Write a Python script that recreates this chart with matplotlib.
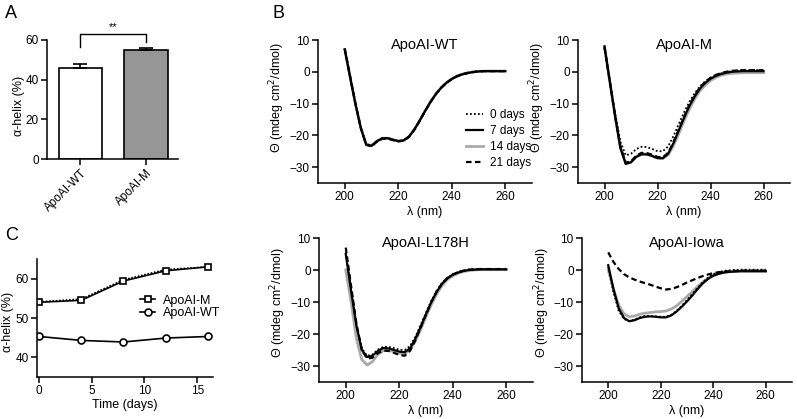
import matplotlib
matplotlib.use('Agg')
import matplotlib.pyplot as plt
import numpy as np

plt.rcParams['font.family'] = ['Liberation Sans', 'DejaVu Sans']
plt.rcParams['font.size'] = 9

# panel A: alpha-helix content
bar_labels = ['ApoAI-WT', 'ApoAI-M']
bar_values = [46.0, 55.2]
bar_err = [1.7, 1.0]
bar_colors = ['white', '#969696']

# panel C: alpha-helix over time
days = [0, 4, 8, 12, 16]
helix_m = [54.0, 54.5, 59.4, 62.0, 63.0]
helix_m_dot = [54.1, 54.8, 59.7, 62.3, 63.0]
helix_wt = [45.3, 44.3, 43.9, 44.9, 45.3]

# panel B: CD spectra (every 2 nm, 200-260 nm)
wl = list(range(200, 261, 2))
spectra = {
    'ApoAI-WT': {
        '0 days':  [7.2, -1.5, -10, -17.5, -22.8, -23.2, -21.8, -20.9, -20.8, -21.3, -21.8, -21.6, -20.4, -18.2, -15.4, -12.4, -9.5, -7.0, -5.0, -3.4, -2.2, -1.3, -0.7, -0.3, 0.0, 0.2, 0.3, 0.3, 0.3, 0.3, 0.3],
        '7 days':  [7.0, -1.7, -10.2, -17.7, -22.9, -23.3, -21.9, -21.0, -20.9, -21.4, -21.8, -21.6, -20.4, -18.2, -15.4, -12.4, -9.6, -7.1, -5.1, -3.5, -2.3, -1.4, -0.8, -0.4, -0.1, 0.1, 0.2, 0.2, 0.2, 0.2, 0.2],
        '14 days': [7.0, -1.6, -10.1, -17.6, -22.8, -23.2, -21.8, -20.9, -20.9, -21.4, -21.8, -21.6, -20.4, -18.1, -15.3, -12.3, -9.5, -7.0, -5.0, -3.4, -2.2, -1.3, -0.7, -0.3, 0.0, 0.1, 0.2, 0.2, 0.2, 0.2, 0.2],
        '21 days': [7.3, -1.4, -10, -17.6, -23.0, -23.5, -22.0, -21.1, -21.0, -21.5, -21.9, -21.7, -20.5, -18.3, -15.5, -12.5, -9.6, -7.1, -5.1, -3.5, -2.3, -1.4, -0.8, -0.4, -0.1, 0.1, 0.2, 0.2, 0.2, 0.2, 0.2],
    },
    'ApoAI-M': {
        '0 days':  [7.5, -3.0, -13.0, -22.0, -26.3, -25.8, -24.3, -23.6, -23.7, -24.3, -25.0, -25.0, -23.5, -20.3, -16.5, -12.8, -9.5, -6.8, -4.6, -3.0, -1.9, -1.1, -0.5, -0.1, 0.2, 0.4, 0.5, 0.5, 0.5, 0.5, 0.5],
        '7 days':  [8.0, -3.0, -14.0, -24.0, -29.0, -28.5, -26.8, -26.0, -26.0, -26.5, -27.2, -27.2, -25.8, -22.5, -18.5, -14.5, -10.8, -7.8, -5.3, -3.5, -2.2, -1.3, -0.7, -0.3, 0.0, 0.1, 0.2, 0.2, 0.2, 0.2, 0.2],
        '14 days': [7.8, -3.2, -14.0, -23.8, -28.8, -28.4, -26.6, -25.8, -25.9, -26.5, -27.0, -27.3, -26.2, -23.3, -19.5, -15.5, -11.8, -8.6, -6.0, -4.2, -2.8, -1.8, -1.1, -0.7, -0.5, -0.4, -0.3, -0.3, -0.3, -0.3, -0.3],
        '21 days': [7.8, -3.0, -13.8, -23.6, -28.6, -28.2, -26.4, -25.5, -25.6, -26.1, -26.8, -26.9, -25.5, -22.2, -18.2, -14.2, -10.5, -7.5, -5.0, -3.2, -1.9, -1.0, -0.4, 0.0, 0.3, 0.4, 0.5, 0.5, 0.5, 0.5, 0.5],
    },
    'ApoAI-L178H': {
        '0 days':  [5.5, -6.0, -17.0, -24.5, -26.8, -26.4, -24.9, -24.0, -24.0, -24.4, -24.9, -25.0, -23.8, -20.9, -17.2, -13.3, -9.6, -6.5, -4.1, -2.4, -1.3, -0.6, -0.2, 0.1, 0.2, 0.3, 0.3, 0.3, 0.3, 0.3, 0.3],
        '7 days':  [5.0, -6.5, -17.5, -25.0, -27.2, -26.8, -25.3, -24.4, -24.5, -25.0, -25.5, -25.7, -24.5, -21.5, -17.8, -13.8, -10.0, -6.8, -4.3, -2.6, -1.5, -0.8, -0.3, 0.0, 0.1, 0.2, 0.2, 0.2, 0.2, 0.2, 0.2],
        '14 days': [0.0, -10.0, -21.5, -28.0, -29.7, -28.6, -26.4, -25.2, -25.1, -25.5, -26.0, -26.1, -25.0, -22.2, -18.6, -14.6, -10.8, -7.5, -4.9, -3.0, -1.8, -1.0, -0.5, -0.2, 0.0, 0.1, 0.1, 0.1, 0.1, 0.1, 0.1],
        '21 days': [7.0, -5.0, -16.8, -25.0, -27.7, -27.4, -26.0, -25.2, -25.3, -25.9, -26.5, -26.8, -25.3, -22.0, -18.0, -13.9, -10.0, -6.7, -4.2, -2.5, -1.4, -0.7, -0.2, 0.1, 0.2, 0.3, 0.3, 0.3, 0.3, 0.3, 0.3],
    },
    'ApoAI-Iowa': {
        '0 days':  [1.0, -7.0, -12.8, -15.3, -16.0, -15.5, -14.8, -14.4, -14.4, -14.5, -14.6, -14.6, -14.0, -12.8, -11.2, -9.4, -7.5, -5.6, -3.8, -2.4, -1.3, -0.7, -0.3, -0.1, 0.0, 0.1, 0.1, 0.1, 0.1, 0.1, 0.1],
        '7 days':  [1.5, -6.0, -12.0, -15.0, -16.0, -15.7, -15.0, -14.6, -14.5, -14.6, -14.8, -14.8, -14.2, -13.0, -11.5, -9.8, -8.0, -6.0, -4.2, -2.8, -1.8, -1.2, -0.8, -0.6, -0.5, -0.4, -0.4, -0.4, -0.4, -0.4, -0.4],
        '14 days': [0.0, -6.0, -11.0, -13.7, -14.6, -14.4, -13.8, -13.5, -13.3, -13.1, -13.0, -12.8, -12.2, -11.2, -9.8, -8.3, -6.8, -5.2, -3.8, -2.6, -1.7, -1.1, -0.7, -0.5, -0.4, -0.3, -0.3, -0.3, -0.3, -0.3, -0.3],
        '21 days': [5.5, 2.5, 0.3, -1.3, -2.3, -3.0, -3.6, -4.1, -4.6, -5.2, -5.7, -6.1, -5.9, -5.4, -4.7, -3.9, -3.2, -2.5, -1.9, -1.4, -1.0, -0.7, -0.5, -0.4, -0.3, -0.3, -0.2, -0.2, -0.2, -0.2, -0.2],
    },
}

line_styles = {
    '0 days':  dict(color='black', lw=1.3, ls=(0, (1, 1.2))),
    '7 days':  dict(color='black', lw=1.6, ls='-'),
    '14 days': dict(color='#aaaaaa', lw=2.0, ls='-'),
    '21 days': dict(color='black', lw=1.6, ls=(0, (2.5, 1.5))),
}
draw_order = ['14 days', '7 days', '0 days', '21 days']
legend_order = ['0 days', '7 days', '14 days', '21 days']

W, H = 797, 419
fig = plt.figure(figsize=(W / 100, H / 100), dpi=100)


def px_axes(left, top, right, bottom):
    return fig.add_axes([left / W, 1 - bottom / H, (right - left) / W, (bottom - top) / H])


def prism(ax):
    for s in ['top', 'right']:
        ax.spines[s].set_visible(False)
    for s in ['left', 'bottom']:
        ax.spines[s].set_linewidth(1.1)
    ax.tick_params(direction='out', length=4, width=1.1, labelsize=8.5, pad=2)


# ---- A ----
axA = px_axes(47, 40, 178, 159)
xpos = np.arange(len(bar_labels))
axA.bar(xpos, bar_values, width=0.66, color=bar_colors, edgecolor='black', linewidth=1.2,
        yerr=[[0, 0], bar_err], capsize=5, error_kw=dict(elinewidth=1.2, capthick=1.2))
axA.set_xlim(-0.51, 1.49)
axA.set_ylim(0, 60)
axA.set_yticks([0, 20, 40, 60])
axA.set_xticks(xpos)
axA.set_xticklabels(bar_labels, rotation=45, ha='right', rotation_mode='anchor')
axA.set_ylabel('α-helix (%)')
axA.yaxis.set_label_coords(-0.17, 0.45)
prism(axA)
axA.plot([0, 0, 1, 1], [56.5, 63, 63, 59], color='black', lw=1.0, clip_on=False)
axA.text(0.5, 64, '**', ha='center', va='bottom', fontsize=8)
fig.text(5 / W, 1 - 18 / H, 'A', fontsize=13)

# ---- C ----
axC = px_axes(37, 259, 213, 377)
axC.plot(days, helix_m_dot, color='black', lw=1.2, ls=(0, (1, 1)))
axC.plot(days, helix_m, color='black', lw=1.2, marker='s', ms=5, mfc='white', mew=1.2, label='ApoAI-M')
axC.plot(days, helix_wt, color='black', lw=1.2, marker='o', ms=5, mfc='white', mew=1.2, label='ApoAI-WT')
axC.set_xlim(-0.2, 16.5)
axC.set_ylim(35, 65)
axC.set_xticks([0, 5, 10, 15])
axC.set_yticks([40, 50, 60])
axC.set_xlabel('Time (days)', labelpad=1)
axC.set_ylabel('α-helix (%)')
axC.yaxis.set_label_coords(-0.13, 0.47)
prism(axC)
axC.legend(loc='upper left', bbox_to_anchor=(0.55, 0.75), frameon=False, fontsize=9,
           handlelength=1.2, handletextpad=0.6, labelspacing=0.05, borderpad=0)
fig.text(5 / W, 1 - 240 / H, 'C', fontsize=13)

# ---- B ----
boxes = {
    'ApoAI-WT': (318, 40, 532, 183),
    'ApoAI-M': (578, 40, 790, 183),
    'ApoAI-L178H': (319, 238, 533, 382),
    'ApoAI-Iowa': (582, 238, 792, 382),
}
ylab_y = {'ApoAI-WT': 0.6, 'ApoAI-M': 0.6, 'ApoAI-L178H': 0.55, 'ApoAI-Iowa': 0.55}
for name, box in boxes.items():
    ax = px_axes(*box)
    for key in draw_order:
        ax.plot(wl, spectra[name][key], label=key, **line_styles[key])
    ax.set_xlim(190, 270)
    ax.set_ylim(-35, 10)
    ax.set_xticks([200, 220, 240, 260])
    ax.set_yticks([-30, -20, -10, 0, 10])
    ax.set_xlabel('λ (nm)', labelpad=2)
    ax.set_ylabel('Θ (mdeg cm$^2$/dmol)')
    ax.yaxis.set_label_coords(-0.145, ylab_y[name])
    ax.text(0.5, 0.965, name, transform=ax.transAxes, ha='center', va='center', fontsize=10.5)
    prism(ax)
    if name == 'ApoAI-WT':
        handles, labels = ax.get_legend_handles_labels()
        hmap = dict(zip(labels, handles))
        ax.legend([hmap[k] for k in legend_order], legend_order, loc='upper left',
                  bbox_to_anchor=(0.665, 0.56), frameon=False, fontsize=8.5,
                  handlelength=1.4, handletextpad=0.6, labelspacing=0.35, borderpad=0)
fig.text(273 / W, 1 - 18 / H, 'B', fontsize=13)

fig.savefig('out.png', dpi=100)
